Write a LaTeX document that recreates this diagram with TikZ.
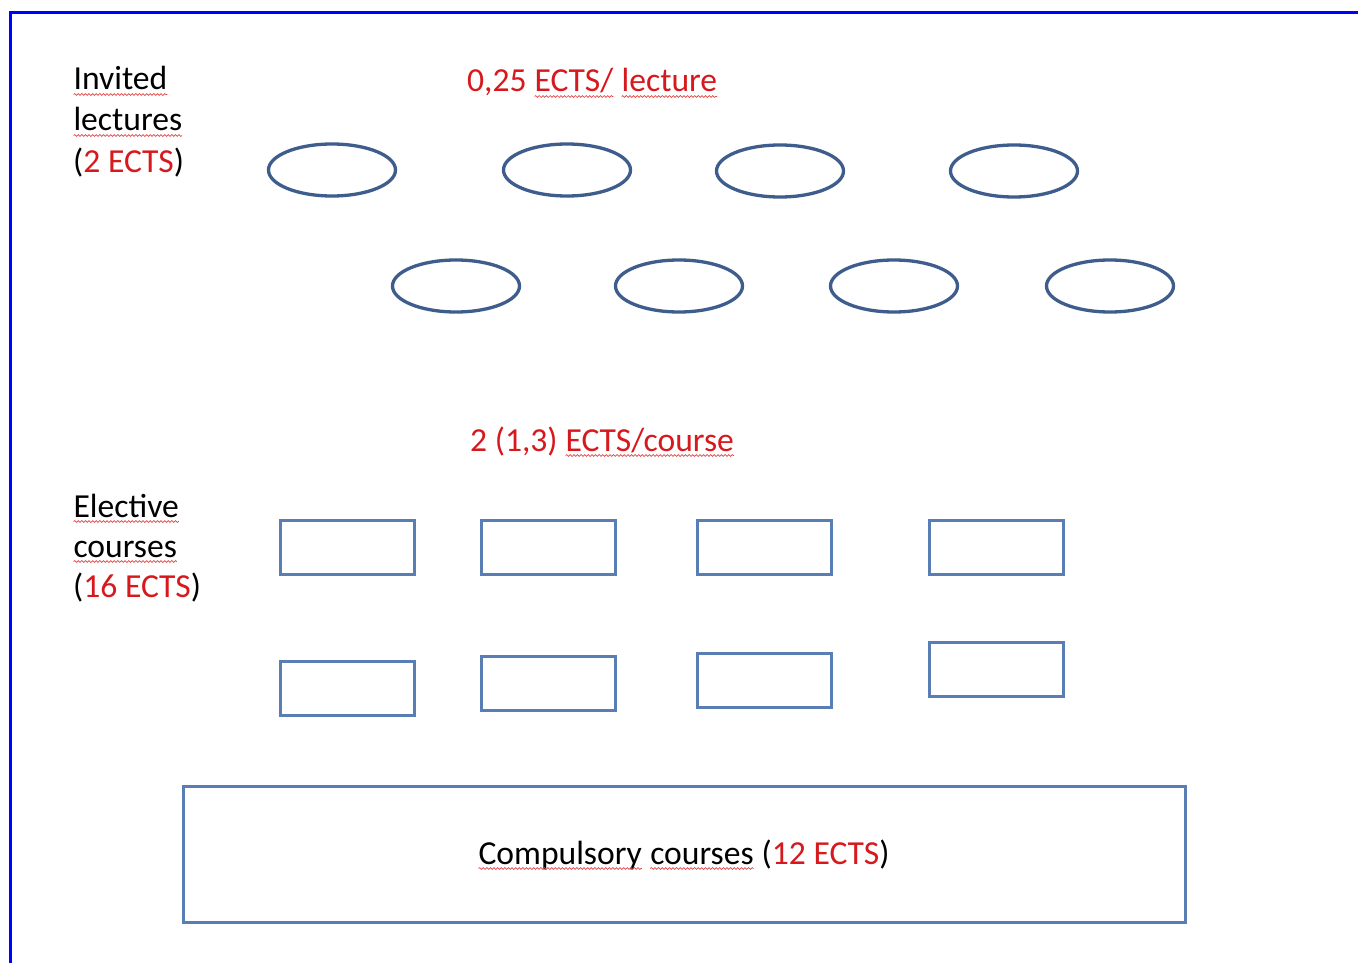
\documentclass[tikz,border=0pt]{standalone}
\usepackage{fontspec}
\setmainfont{Carlito}
\usetikzlibrary{shapes.geometric,decorations.pathmorphing}
\definecolor{txtred}{RGB}{215,25,30}
\definecolor{ellcol}{RGB}{62,92,140}
\definecolor{reccol}{RGB}{88,126,180}
\definecolor{framecol}{RGB}{0,0,255}
\definecolor{sqcol}{RGB}{225,70,70}
\newcommand\sqw[1]{\tikz[baseline=(sqwnode.base),x=1pt,y=1pt]{\node[inner sep=0pt,outer sep=0pt,draw=none,anchor=base west](sqwnode){#1};\draw[sqcol,line width=0.7pt,decorate,decoration={snake,amplitude=0.9pt,segment length=3.6pt}] ([yshift=-4.5pt]sqwnode.base west) -- ([yshift=-4.5pt]sqwnode.base east);}}
\begin{document}
\begin{tikzpicture}[x=1pt,y=-1pt,
  lbl/.style={anchor=base west,inner sep=0pt,font=\fontsize{33.6}{40}\selectfont},
  lecture/.style={draw=ellcol,line width=3.3pt,ellipse,minimum width=127pt,minimum height=52pt,inner sep=0pt},
  course/.style={draw=reccol,line width=3pt,rectangle,minimum width=134pt,minimum height=54pt,inner sep=0pt},
  frameline/.style={draw=framecol,line width=3pt}]
\useasboundingbox (0,0) rectangle (1358,963);
\fill[white] (0,0) rectangle (1358,963);
% frame
\coordinate (fbl) at (10,963);
\coordinate (ftl) at (10,12.5);
\coordinate (ftr) at (1358,12.5);
\draw[frameline] (fbl) -- (ftl) -- (ftr);
% labels
\node[lbl] (inv1) at (73,90) {\sqw{Invited}};
\node[lbl] (inv2) at (73,131) {\sqw{lectures}};
\node[lbl] (inv3) at (73,172) {(\textcolor{txtred}{2 ECTS})};
\node[lbl,text=txtred] (perlec) at (467,92) {0,25 \sqw{ECTS/} \sqw{lecture}};
\node[lbl] (el1) at (73,517) {\sqw{Elective}};
\node[lbl] (el2) at (73,557) {\sqw{courses}};
\node[lbl] (el3) at (73,597) {(\textcolor{txtred}{16 ECTS})};
\node[lbl,text=txtred] (percourse) at (470,451) {2 (1,3) \sqw{ECTS/course}};
% lectures
\node[lecture] (l1) at (332,170) {};
\node[lecture] (l2) at (567,170) {};
\node[lecture] (l3) at (780,171) {};
\node[lecture] (l4) at (1014,171) {};
\node[lecture] (l5) at (456,286) {};
\node[lecture] (l6) at (679,286) {};
\node[lecture] (l7) at (894,286) {};
\node[lecture] (l8) at (1110,286) {};
% elective courses
\node[course] (c1) at (347,547) {};
\node[course] (c2) at (548,547) {};
\node[course] (c3) at (764,547) {};
\node[course] (c4) at (996,547) {};
\node[course] (c5) at (347,688) {};
\node[course] (c6) at (548,683) {};
\node[course] (c7) at (764,680) {};
\node[course] (c8) at (996,669) {};
% compulsory
\node[draw=reccol,line width=3pt,rectangle,minimum width=1002pt,minimum height=136pt,inner sep=0pt] (comp) at (684,854) {};
\node[lbl] (comptxt) at (478,864) {\sqw{Compulsory} \sqw{courses} (\textcolor{txtred}{12 ECTS})};
\end{tikzpicture}
\end{document}
